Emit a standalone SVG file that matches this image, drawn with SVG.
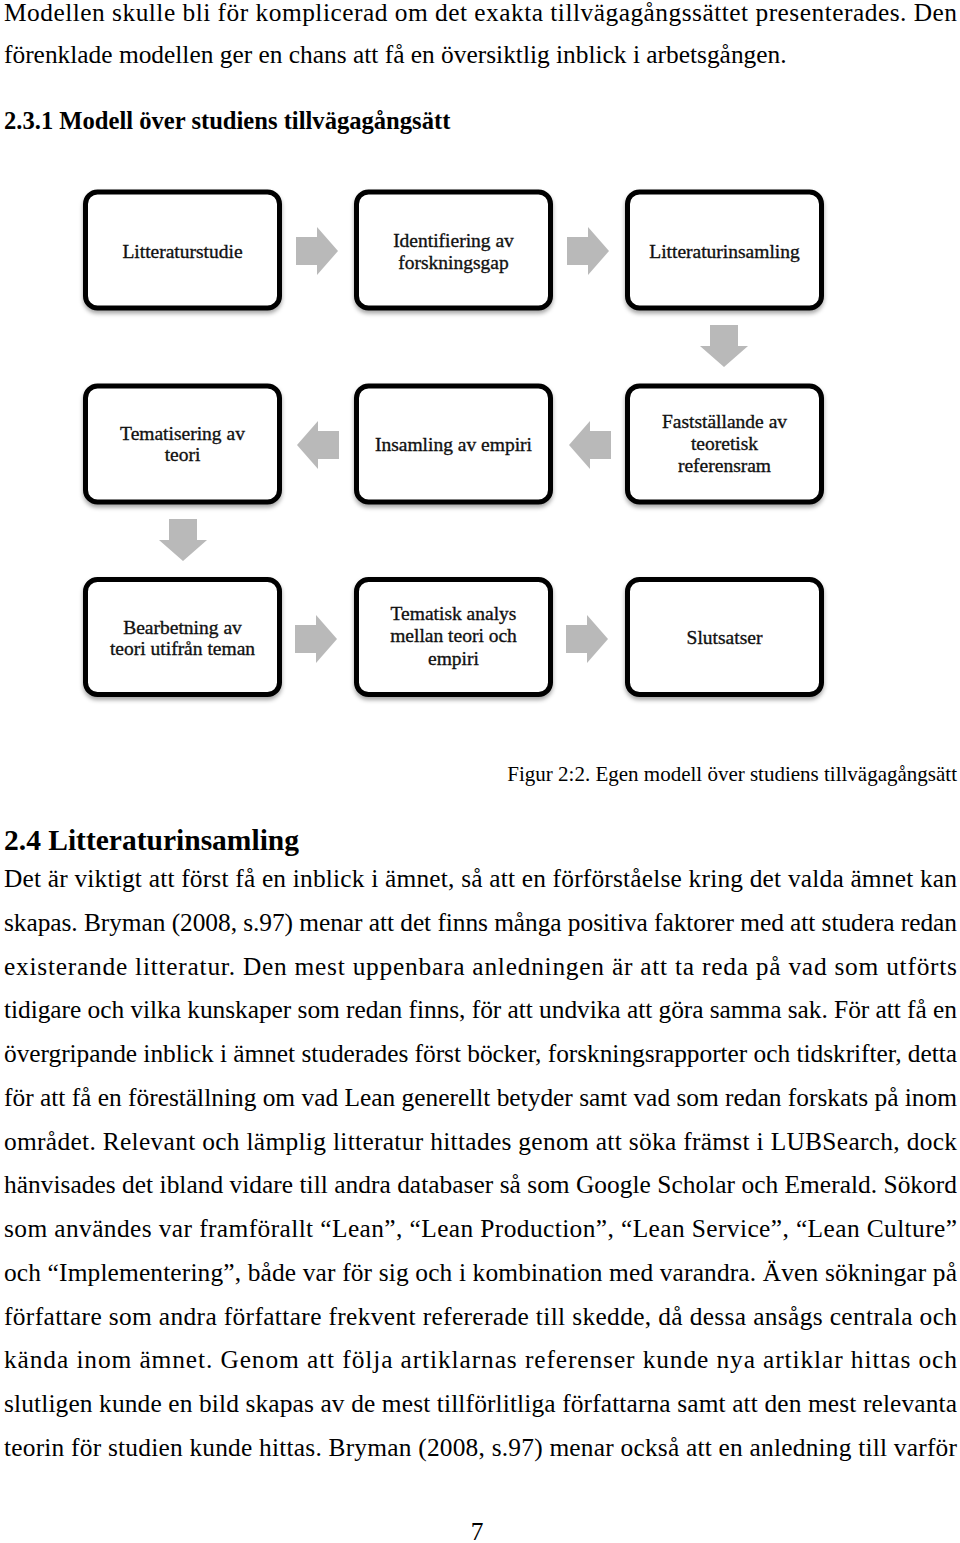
<svg xmlns="http://www.w3.org/2000/svg" xmlns:xlink="http://www.w3.org/1999/xlink" width="960" height="1543" viewBox="0 0 960 1543">
<style>
.body{font-family:"Liberation Serif","Times New Roman",serif;font-size:25.4px;fill:#000}
.h1{font-family:"Liberation Serif","Times New Roman",serif;font-size:24.6px;font-weight:bold;fill:#000}
.h2{font-family:"Liberation Serif","Times New Roman",serif;font-size:29.5px;font-weight:bold;fill:#000}
.cap{font-family:"Liberation Serif","Times New Roman",serif;font-size:21px;fill:#000}
.box{fill:#fff;stroke:#000;stroke-width:5;filter:url(#sh)}
.lbl{font-family:"Liberation Serif","Times New Roman",serif;font-size:19.5px;fill:#111;stroke:#111;stroke-width:0.35;text-anchor:middle}
.arr{fill:#b9b9b9}
</style>
<defs>
<filter id="sh" x="-10%" y="-10%" width="120%" height="130%">
<feDropShadow dx="0" dy="3" stdDeviation="2" flood-color="#000" flood-opacity="0.35"/>
</filter>
<path id="arrow" d="M-21,-14 H0 V-24 L21,0 L0,24 V14 H-21 Z"/>
</defs>
<rect width="960" height="1543" fill="#fff"/>

<text class="body" x="4" y="21" textLength="953" lengthAdjust="spacing">Modellen skulle bli för komplicerad om det exakta tillvägagångssättet presenterades. Den</text>
<text class="body" x="4" y="63">förenklade modellen ger en chans att få en översiktlig inblick i arbetsgången.</text>
<text class="h1" x="4" y="129">2.3.1 Modell över studiens tillvägagångsätt</text>

<g id="connectors" class="arr">
<use xlink:href="#arrow" href="#arrow" transform="translate(317,251)"/>
<use xlink:href="#arrow" href="#arrow" transform="translate(588,251)"/>
<use xlink:href="#arrow" href="#arrow" transform="translate(724,346) rotate(90)"/>
<use xlink:href="#arrow" href="#arrow" transform="translate(590,445) rotate(180)"/>
<use xlink:href="#arrow" href="#arrow" transform="translate(318,445) rotate(180)"/>
<use xlink:href="#arrow" href="#arrow" transform="translate(183,540) rotate(90)"/>
<use xlink:href="#arrow" href="#arrow" transform="translate(316,639)"/>
<use xlink:href="#arrow" href="#arrow" transform="translate(587,639)"/>
</g>

<g id="n1"><rect class="box" x="85.5" y="192" width="194" height="116" rx="12"/>
<text class="lbl" x="182.5" y="258">Litteraturstudie</text></g>
<g id="n2"><rect class="box" x="356.5" y="192" width="194" height="116" rx="12"/>
<text class="lbl" x="453.5" y="247">Identifiering av</text>
<text class="lbl" x="453.5" y="269">forskningsgap</text></g>
<g id="n3"><rect class="box" x="627.5" y="192" width="194" height="116" rx="12"/>
<text class="lbl" x="724.5" y="258">Litteraturinsamling</text></g>

<g id="n4"><rect class="box" x="85.5" y="386" width="194" height="116" rx="12"/>
<text class="lbl" x="182.5" y="440">Tematisering av</text>
<text class="lbl" x="182.5" y="461">teori</text></g>
<g id="n5"><rect class="box" x="356.5" y="386" width="194" height="116" rx="12"/>
<text class="lbl" x="453.5" y="451">Insamling av empiri</text></g>
<g id="n6"><rect class="box" x="627.5" y="386" width="194" height="116" rx="12"/>
<text class="lbl" x="724.5" y="428">Fastställande av</text>
<text class="lbl" x="724.5" y="450">teoretisk</text>
<text class="lbl" x="724.5" y="472">referensram</text></g>

<g id="n7"><rect class="box" x="85.5" y="579.5" width="194" height="115" rx="12"/>
<text class="lbl" x="182.5" y="634">Bearbetning av</text>
<text class="lbl" x="182.5" y="655">teori utifrån teman</text></g>
<g id="n8"><rect class="box" x="356.5" y="579.5" width="194" height="115" rx="12"/>
<text class="lbl" x="453.5" y="620">Tematisk analys</text>
<text class="lbl" x="453.5" y="642">mellan teori och</text>
<text class="lbl" x="453.5" y="665">empiri</text></g>
<g id="n9"><rect class="box" x="627.5" y="579.5" width="194" height="115" rx="12"/>
<text class="lbl" x="724.5" y="644">Slutsatser</text></g>

<text class="cap" x="957" y="781" text-anchor="end">Figur 2:2. Egen modell över studiens tillvägagångsätt</text>
<text class="h2" x="4" y="850">2.4 Litteraturinsamling</text>

<text class="body" x="4" y="887" textLength="953" lengthAdjust="spacing">Det är viktigt att först få en inblick i ämnet, så att en förförståelse kring det valda ämnet kan</text>
<text class="body" x="4" y="930.7" textLength="953" lengthAdjust="spacing">skapas. Bryman (2008, s.97) menar att det finns många positiva faktorer med att studera redan</text>
<text class="body" x="4" y="974.5" textLength="953" lengthAdjust="spacing">existerande litteratur. Den mest uppenbara anledningen är att ta reda på vad som utförts</text>
<text class="body" x="4" y="1018.2" textLength="953" lengthAdjust="spacing">tidigare och vilka kunskaper som redan finns, för att undvika att göra samma sak. För att få en</text>
<text class="body" x="4" y="1062" textLength="953" lengthAdjust="spacing">övergripande inblick i ämnet studerades först böcker, forskningsrapporter och tidskrifter, detta</text>
<text class="body" x="4" y="1105.7" textLength="953" lengthAdjust="spacing">för att få en föreställning om vad Lean generellt betyder samt vad som redan forskats på inom</text>
<text class="body" x="4" y="1149.5" textLength="953" lengthAdjust="spacing">området. Relevant och lämplig litteratur hittades genom att söka främst i LUBSearch, dock</text>
<text class="body" x="4" y="1193.2" textLength="953" lengthAdjust="spacing">hänvisades det ibland vidare till andra databaser så som Google Scholar och Emerald. Sökord</text>
<text class="body" x="4" y="1237" textLength="953" lengthAdjust="spacing">som användes var framförallt “Lean”, “Lean Production”, “Lean Service”, “Lean Culture”</text>
<text class="body" x="4" y="1280.7" textLength="953" lengthAdjust="spacing">och “Implementering”, både var för sig och i kombination med varandra. Även sökningar på</text>
<text class="body" x="4" y="1324.5" textLength="953" lengthAdjust="spacing">författare som andra författare frekvent refererade till skedde, då dessa ansågs centrala och</text>
<text class="body" x="4" y="1368.2" textLength="953" lengthAdjust="spacing">kända inom ämnet. Genom att följa artiklarnas referenser kunde nya artiklar hittas och</text>
<text class="body" x="4" y="1412" textLength="953" lengthAdjust="spacing">slutligen kunde en bild skapas av de mest tillförlitliga författarna samt att den mest relevanta</text>
<text class="body" x="4" y="1455.7" textLength="953" lengthAdjust="spacing">teorin för studien kunde hittas. Bryman (2008, s.97) menar också att en anledning till varför</text>

<text class="body" x="477" y="1540" text-anchor="middle">7</text>
</svg>
